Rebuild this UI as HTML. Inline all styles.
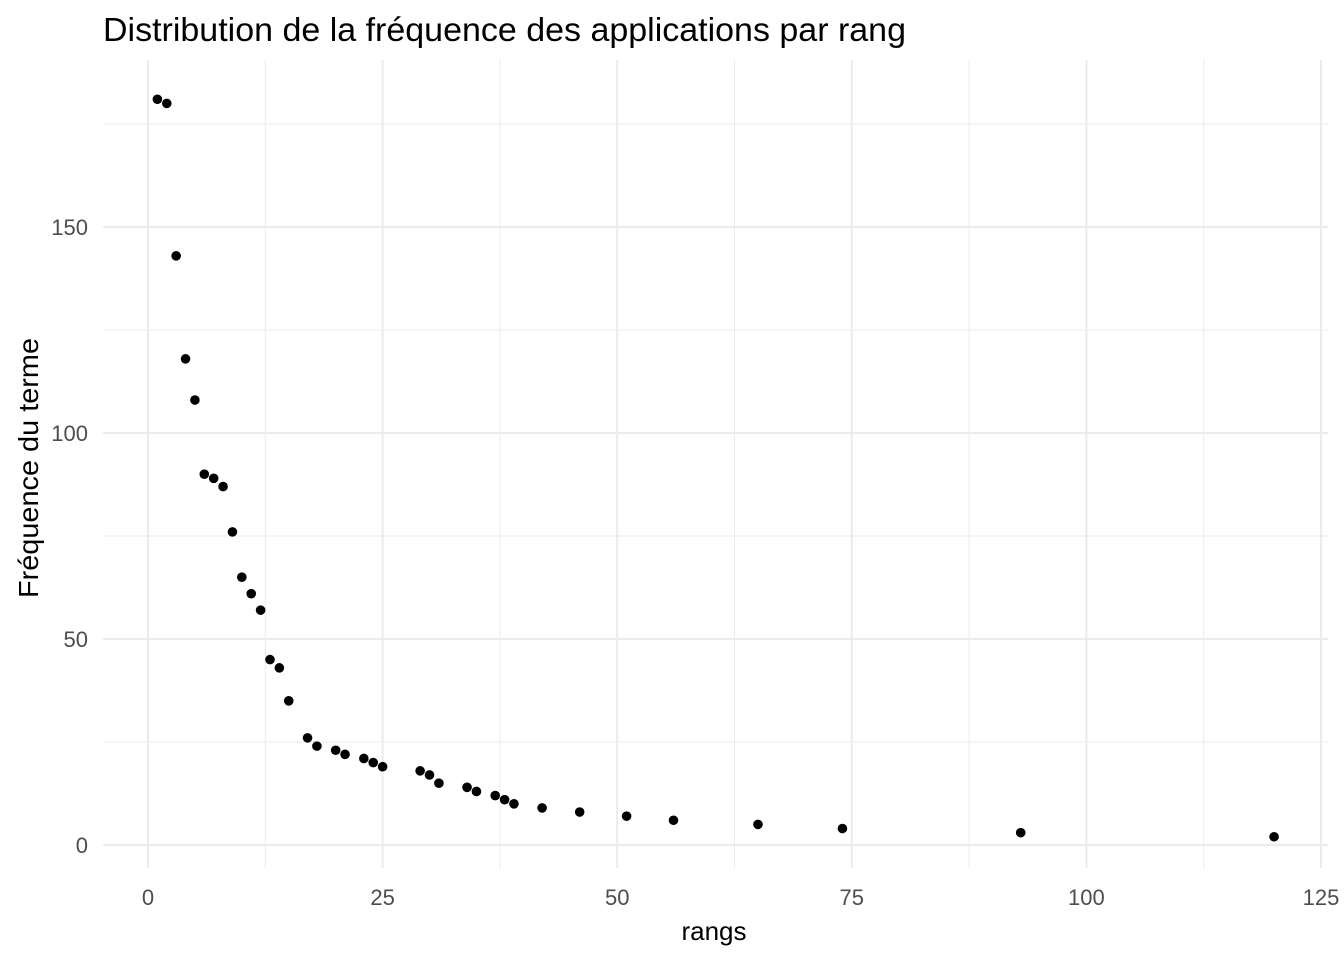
<!DOCTYPE html>
<html><head><meta charset="utf-8"><style>
body{margin:0;background:#fff;}
svg text{font-family:"Liberation Sans",Arial,sans-serif;}
</style></head><body>
<svg id="chart" width="1344" height="960" xmlns="http://www.w3.org/2000/svg">
<rect width="1344" height="960" fill="#fff"/>
<text x="103" y="41" font-size="33" textLength="803" lengthAdjust="spacingAndGlyphs" fill="#000">Distribution de la fréquence des applications par rang</text>
<g id="grid"></g>
<g id="ticks"></g>
<g id="points"></g>
<text x="714" y="940" font-size="26" text-anchor="middle" fill="#000">rangs</text>
<text transform="translate(38,468) rotate(-90)" font-size="28" textLength="260" lengthAdjust="spacingAndGlyphs" text-anchor="middle" fill="#000">Fréquence du terme</text>
</svg>
<script>
const ranks=[1,2,3,4,5,6,7,8,9,10,11,12,13,14,15,17,18,20,21,23,24,25,29,30,31,34,35,37,38,39,42,46,51,56,65,74,93,120];
const freqs=[181,180,143,118,108,90,89,87,76,65,61,57,45,43,35,26,24,23,22,21,20,19,18,17,15,14,13,12,11,10,9,8,7,6,5,4,3,2];
const xTicks=[0,25,50,75,100,125];
const yTicks=[0,50,100,150];
const xMinor=[12.5,37.5,62.5,87.5,112.5];
const yMinor=[25,75,125,175];
const NS="http://www.w3.org/2000/svg";
const X=v=>148+v*9.384, Y=v=>845-v*4.12;
const L=103,R=1328,T=60,B=868;
const grid=document.getElementById('grid'),ticks=document.getElementById('ticks'),pts=document.getElementById('points');
function line(x1,y1,x2,y2,w,name){const l=document.createElementNS(NS,'line');
l.setAttribute('x1',x1);l.setAttribute('y1',y1);l.setAttribute('x2',x2);l.setAttribute('y2',y2);
l.setAttribute('stroke','#ebebeb');l.setAttribute('stroke-width',w);


grid.appendChild(l);}
xMinor.forEach(v=>line(X(v),T,X(v),B,1,'x-minor-gridline'));
yMinor.forEach(v=>line(L,Y(v),R,Y(v),1,'y-minor-gridline'));
xTicks.forEach(v=>{line(X(v),T,X(v),B,2,'x-major-gridline');
const t=document.createElementNS(NS,'text');t.setAttribute('x',X(v));t.setAttribute('y',905);
t.setAttribute('text-anchor','middle');t.setAttribute('font-size','22');t.setAttribute('fill','#4d4d4d');t.textContent=v;


ticks.appendChild(t);});
yTicks.forEach(v=>{line(L,Y(v),R,Y(v),2,'y-major-gridline');
const t=document.createElementNS(NS,'text');t.setAttribute('x',88);t.setAttribute('y',Y(v)+8);
t.setAttribute('text-anchor','end');t.setAttribute('font-size','22');t.setAttribute('fill','#4d4d4d');t.textContent=v;


ticks.appendChild(t);});
ranks.forEach((r,i)=>{const c=document.createElementNS(NS,'circle');
c.setAttribute('cx',X(r));c.setAttribute('cy',Y(freqs[i]));c.setAttribute('r',4.8);c.setAttribute('fill','#000');


pts.appendChild(c);});
</script>
</body></html>
